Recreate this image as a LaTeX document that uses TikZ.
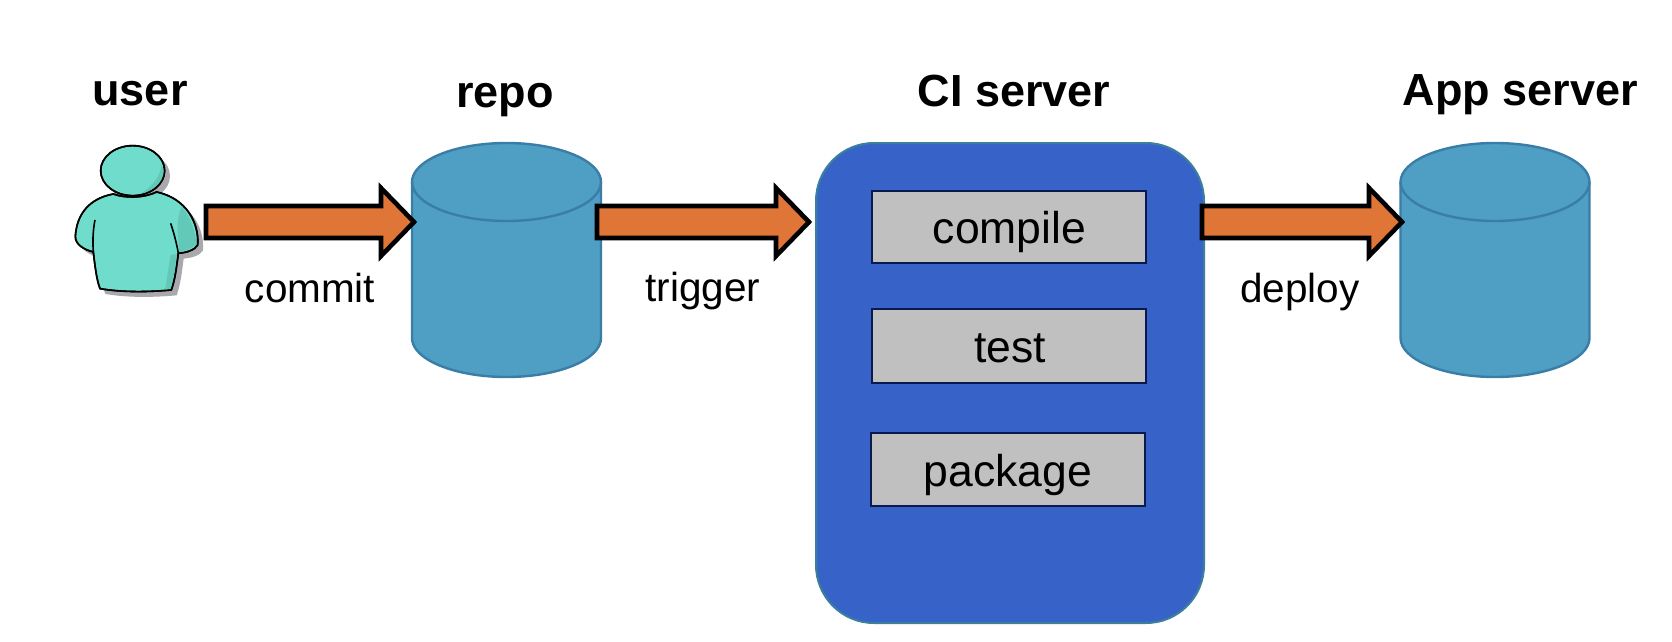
\documentclass[tikz,border=0pt]{standalone}
\usepackage{fontspec}
\setmainfont{Liberation Sans}
\usetikzlibrary{calc}
\definecolor{tealfill}{HTML}{70DCCB}
\definecolor{tealdark}{HTML}{62C8B8}
\definecolor{usershadow}{HTML}{A9A9AD}
\definecolor{orangefill}{HTML}{E07538}
\definecolor{cylfill}{HTML}{4F9EC3}
\definecolor{cyledge}{HTML}{3A7DA6}
\definecolor{cifill}{HTML}{3763C9}
\definecolor{ciedge}{HTML}{3C7F9C}
\definecolor{boxfill}{HTML}{C0C0C0}
\definecolor{boxedge}{HTML}{0A1A50}
\tikzset{
  title/.style={anchor=base,inner sep=0pt,font=\fontsize{45}{50}\selectfont\bfseries},
  label/.style={anchor=base,inner sep=0pt,font=\fontsize{40.5}{46}\selectfont},
  stagetext/.style={anchor=base,inner sep=0pt,font=\fontsize{44.5}{50}\selectfont},
  store/.style={rectangle,minimum width=189pt,minimum height=234pt,inner sep=0pt,outer sep=0pt},
  cylbody/.style={draw=cyledge,line width=2.4pt,fill=cylfill,line join=round},
  lid/.style={draw=cyledge,line width=2.4pt},
  server/.style={rectangle,rounded corners=58pt,minimum width=388pt,minimum height=480pt,
    inner sep=0pt,outer sep=0pt,draw=ciedge,line width=2pt,fill=cifill},
  stage/.style={rectangle,minimum width=274pt,minimum height=72pt,inner sep=0pt,outer sep=0pt,
    draw=boxedge,line width=1.6pt,fill=boxfill},
  blockarrow/.style={draw=black,line width=4.6pt,fill=orangefill,miter limit=20,
    to path={($(\tikztostart)+(0,-16)$) -- ($(\tikztotarget)+(-33,-16)$) -- ($(\tikztotarget)+(-33,-34)$)
      -- (\tikztotarget) -- ($(\tikztotarget)+(-33,34)$) -- ($(\tikztotarget)+(-33,16)$)
      -- ($(\tikztostart)+(0,16)$) -- cycle}},
  userline/.style={draw=black,line width=1.6pt}
}
\newcommand{\drawstore}[1]{%
  \draw[cylbody] ($(#1.north west)+(0,39)$)
    .. controls ($(#1.north west)+(0,17.5)$) and ($(#1.north)+(-52,0)$) .. (#1.north)
    .. controls ($(#1.north)+(52,0)$) and ($(#1.north east)+(0,17.5)$) .. ($(#1.north east)+(0,39)$)
    -- ($(#1.south east)+(0,-39)$)
    .. controls ($(#1.south east)+(0,-17.5)$) and ($(#1.south)+(52,0)$) .. (#1.south)
    .. controls ($(#1.south)+(-52,0)$) and ($(#1.south west)+(0,-17.5)$) .. ($(#1.south west)+(0,-39)$)
    -- cycle;
  \draw[lid] ($(#1.north west)+(0,39)$)
    .. controls ($(#1.north west)+(0,60.5)$) and ($(#1.north)+(-52,78)$) .. ($(#1.north)+(0,78)$)
    .. controls ($(#1.north)+(52,78)$) and ($(#1.north east)+(0,60.5)$) .. ($(#1.north east)+(0,39)$);
}
\newcommand{\userbody}{(190,432) .. controls (120,445) and (80,490) .. (76,560)
  .. controls (76,585) and (105,600) .. (130,606)
  .. controls (135,650) and (140,690) .. (150,716)
  .. controls (220,728) and (300,726) .. (364,720)
  .. controls (375,690) and (380,650) .. (385,610)
  .. controls (410,608) and (435,600) .. (443,585)
  .. controls (448,520) and (410,445) .. (320,426)
  .. controls (280,445) and (225,445) .. (190,432) -- cycle}
\newcommand{\userhead}{(248,362) ellipse [x radius=96,y radius=75]}
\begin{document}
\begin{tikzpicture}[x=1pt,y=-1pt]
\useasboundingbox (0,0) rectangle (1672,642);
% user figure
\begin{scope}[shift={(50,50)},x=0.3333pt,y=-0.3333pt]
  \fill[usershadow,shift={(16,16)}] \userhead;
  \fill[usershadow,shift={(16,16)}] \userbody;
  \filldraw[fill=tealfill,userline] \userbody;
  \fill[tealdark] (395,470) .. controls (420,500) and (435,540) .. (440,582) .. controls (420,598) and (400,605) .. (388,606) .. controls (385,560) and (375,520) .. (395,470) -- cycle;
  \fill[tealdark] (362,615) -- (381,612) .. controls (376,650) and (370,690) .. (362,717) -- (345,720) -- cycle;
  \draw[userline] \userbody;
  \draw[userline] (135,510) .. controls (128,545) and (128,580) .. (130,606);
  \draw[userline] (362,520) .. controls (372,550) and (380,580) .. (385,610);
  \filldraw[fill=tealfill,userline] \userhead;
  \fill[tealdark] (335,345) .. controls (330,385) and (300,415) .. (270,432) .. controls (310,425) and (345,395) .. (342,362) -- cycle;
  \draw[userline] \userhead;
\end{scope}
\coordinate (userOut) at (206,222);
% stores
\node[store] (repo) at (506.5,260) {};
\drawstore{repo}
\coordinate (repoIn) at (414,222);
\coordinate (repoOut) at (597,222);
\node[store] (app) at (1495,260) {};
\drawstore{app}
\coordinate (appIn) at (1402,222);
% CI server
\node[server] (ci) at (1010,383) {};
\coordinate (ciIn) at (809,222);
\coordinate (ciOut) at (1202,222);
\node[stage] (compile) at (1009,227) {};
\node[stage,minimum height=74pt] (test) at (1009,346) {};
\node[stage,minimum height=73pt] (package) at (1008,469.5) {};
\node[stagetext] (compileText) at (1009.5,243) {compile};
\node[stagetext] (testText) at (1010,362) {test};
\node[stagetext] (packageText) at (1008,486) {package};
% arrows
\draw[blockarrow] (userOut) to (repoIn);
\draw[blockarrow] (repoOut) to (ciIn);
\draw[blockarrow] (ciOut) to (appIn);
% labels
\node[title] (userTitle) at (140,105) {user};
\node[title] (repoTitle) at (505,107) {repo};
\node[title] (ciTitle) at (1014,106) {CI server};
\node[title] (appTitle) at (1520.5,105) {App server};
\node[label] (commitLabel) at (310,302) {commit};
\node[label] (triggerLabel) at (703,301) {trigger};
\node[label] (deployLabel) at (1300,302) {deploy};
\end{tikzpicture}
\end{document}
